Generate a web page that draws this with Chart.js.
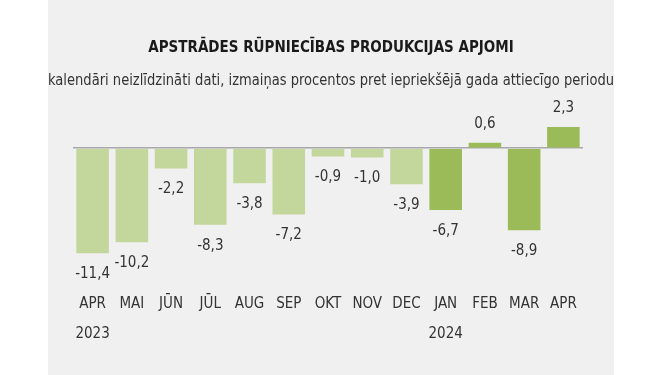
<!DOCTYPE html>
<html>
<head>
<meta charset="utf-8">
<script src="https://cdn.jsdelivr.net/npm/chart.js@4"></script>
<style>
    html, body { margin: 0; padding: 0; background: #ffffff; }
    #wrap { position: relative; width: 665px; height: 375px; }
    #panel { position: absolute; left: 48px; top: 0; width: 566px; height: 375px; background: #f0f0f0; }
    #chart { position: absolute; left: 0; top: 0; }
</style>
</head>
<body>
<div id="wrap">
    <div id="panel"></div>
    <canvas id="chart" width="665" height="375"></canvas>
</div>
<script>
const months = ["APR", "MAI", "JŪN", "JŪL", "AUG", "SEP", "OKT", "NOV", "DEC", "JAN", "FEB", "MAR", "APR"];
const years = ["2023", "", "", "", "", "", "", "", "", "2024", "", "", ""];
const values = [-11.4, -10.2, -2.2, -8.3, -3.8, -7.2, -0.9, -1.0, -3.9, -6.7, 0.6, -8.9, 2.3];

const FONT = "'Liberation Sans Narrow', 'DejaVu Sans Condensed', sans-serif";
const light = "#c3d69b";
const dark = "#9bbb59";

const labels = months.map((m, i) => (years[i] ? [m, years[i]] : m));
const barColors = years.map((y, i) => (i >= years.indexOf("2024") ? dark : light));

const fmt = (v) => v.toFixed(1).replace(".", ",");

// value labels under/over the bars
const valueLabels = {
    id: "valueLabels",
    afterDatasetsDraw(chart) {
        const ctx = chart.ctx;
        const meta = chart.getDatasetMeta(0);
        ctx.save();
        ctx.font = "15px " + FONT;
        ctx.fillStyle = "#333333";
        ctx.textAlign = "center";
        ctx.textBaseline = "middle";
        meta.data.forEach((bar, i) => {
            const v = values[i];
            const y = v < 0 ? bar.y + 21 : bar.y - 19;
            ctx.fillText(fmt(v), bar.x, y);
        });
        ctx.restore();
    },
};

new Chart(document.getElementById("chart"), {
    type: "bar",
    data: {
        labels: labels,
        datasets: [
            {
                data: values,
                backgroundColor: barColors,
                borderWidth: 0,
                barPercentage: 0.83,
                categoryPercentage: 1,
            },
        ],
    },
    options: {
        responsive: false,
        animation: false,
        layout: {
            padding: { left: 48, right: 51, top: 0, bottom: 4 },
        },
        plugins: {
            legend: { display: false },
            tooltip: { enabled: false },
            title: {
                display: true,
                text: "APSTRĀDES RŪPNIECĪBAS PRODUKCIJAS APJOMI",
                color: "#1a1a1a",
                font: { family: FONT, size: 15, weight: "bold", lineHeight: 1.2 },
                padding: { top: 39.5, bottom: 0 },
            },
            subtitle: {
                display: true,
                text: "kalendāri neizlīdzināti dati, izmaiņas procentos pret iepriekšējā gada attiecīgo periodu",
                color: "#333333",
                font: { family: FONT, size: 15, lineHeight: 1.2 },
                padding: { top: 14.5, bottom: 26 },
            },
        },
        scales: {
            x: {
                grid: { display: false, drawTicks: false },
                border: { display: false },
                ticks: {
                    color: "#333333",
                    font: { family: FONT, size: 15, lineHeight: 2 },
                    padding: 21.5,
                    maxRotation: 0,
                    autoSkip: false,
                },
            },
            y: {
                min: -13,
                max: 3.5,
                afterFit: (scale) => {
                    scale.width = 25;
                },
                grid: {
                    drawTicks: false,
                    lineWidth: 1.5,
                    color: (c) => (c.tick && c.tick.value === 0 ? "#a8a8a8" : "transparent"),
                },
                border: { display: false },
                ticks: { display: false, stepSize: 1 },
            },
            // empty axis on the right, only keeps the plot clear of the panel edge
            yRight: {
                position: "right",
                min: -13,
                max: 3.5,
                afterFit: (scale) => {
                    scale.width = 31;
                },
                grid: { display: false, drawTicks: false },
                border: { display: false },
                ticks: { display: false },
            },
        },
    },
    plugins: [valueLabels],
});
</script>
</body>
</html>
